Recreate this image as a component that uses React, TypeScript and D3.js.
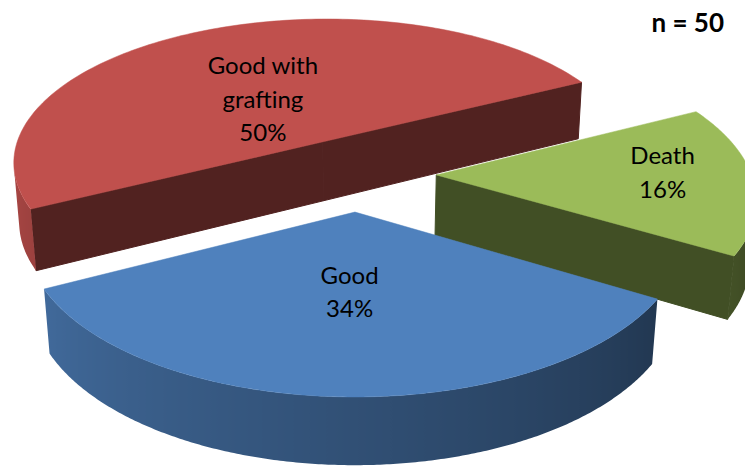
import React from "react";
import * as d3 from "d3";

// ---- data ----
const categories = ["Good", "Death", "Good with grafting"];
const values = [34, 16, 50];
const labelLines = [["Good"], ["Death"], ["Good with", "grafting"]];
const sampleNote = "n = 50";
const sliceColors = ["#4F81BD", "#9BBB59", "#C0504D"];

// ---- layout / camera ----
const W = 745;
const H = 467;
const ELEV = (28 * Math.PI) / 180;
const DIST = 6.42;
const FOCAL = 2022;
const CX = 357.5;
const CY = 173.8;
const THICK = 0.22;
const EXPLODE = 0.25;
const START = (207 * Math.PI) / 180;
const LABEL_R = [0.47, 0.72, 0.38];
const LABEL_ROT = [0, 3, 6.4];
const FONT = "Lato, 'Open Sans', sans-serif";

const cam = [0, DIST * Math.sin(ELEV), -DIST * Math.cos(ELEV)];

function project(p: number[]): [number, number, number] {
  const rx = p[0] - cam[0];
  const ry = p[1] - cam[1];
  const rz = p[2] - cam[2];
  const xc = rx;
  const yc = ry * Math.cos(ELEV) + rz * Math.sin(ELEV);
  const zc = -ry * Math.sin(ELEV) + rz * Math.cos(ELEV);
  return [CX + (FOCAL * xc) / zc, CY - (FOCAL * yc) / zc, zc];
}

function visible(p: number[], n: number[]) {
  return (cam[0] - p[0]) * n[0] + (cam[1] - p[1]) * n[1] + (cam[2] - p[2]) * n[2] > 0;
}

const shade = d3.scaleLinear().domain([180, 340]).range([0.9, 0.4]).clamp(true);

function darken(c: string, f: number) {
  const r = d3.rgb(c);
  return d3.rgb(r.r * f, r.g * f, r.b * f).formatHex();
}

const lineGen = d3.line<[number, number, number]>().x((d) => d[0]).y((d) => d[1]);

export default function App() {
  const arcs = d3.pie<number>().sort(null).value((d) => d)(values);
  const color = d3.scaleOrdinal<string, string>().domain(categories).range(sliceColors);
  const total = d3.sum(values);
  const pct = d3.format(".0%");

  const slices = arcs.map((a, i) => {
    const ps = START + a.startAngle;
    const pe = START + a.endAngle;
    const mid = (ps + pe) / 2;
    const ox = EXPLODE * Math.cos(mid);
    const oz = EXPLODE * Math.sin(mid);
    const pt = (phi: number, r: number, y: number) => [ox + r * Math.cos(phi), y, oz + r * Math.sin(phi)];
    const base = color(categories[i]);
    const toPath = (pts: number[][]) => (lineGen(pts.map(project)) || "") + "Z";
    const walls: { d: string; fill: string }[] = [];

    // radial walls (cut faces)
    const radial = [
      { phi: ps, n: [Math.cos(ps - Math.PI / 2), 0, Math.sin(ps - Math.PI / 2)] },
      { phi: pe, n: [Math.cos(pe + Math.PI / 2), 0, Math.sin(pe + Math.PI / 2)] },
    ];
    radial.forEach((w) => {
      const quad = [pt(w.phi, 0, 0), pt(w.phi, 1, 0), pt(w.phi, 1, -THICK), pt(w.phi, 0, -THICK)];
      const c = pt(w.phi, 0.5, -THICK / 2);
      if (visible(c, w.n)) walls.push({ d: toPath(quad), fill: darken(base, 0.42) });
    });

    // outer curved wall -> single path with horizontal gradient
    const steps = Math.max(16, Math.ceil(((pe - ps) * 360) / Math.PI));
    const vis: number[] = [];
    for (let k = 0; k <= steps; k++) {
      const am = ps + ((pe - ps) * k) / steps;
      const n = [Math.cos(am), 0, Math.sin(am)];
      if (visible(pt(am, 1, -THICK / 2), n)) vis.push(am);
    }
    let outer: { d: string; stops: { o: number; c: string }[]; x1: number; x2: number } | null = null;
    if (vis.length > 1) {
      const topArc = vis.map((am) => pt(am, 1, 0));
      const botArc = vis.map((am) => pt(am, 1, -THICK)).reverse();
      const d = toPath([...topArc, ...botArc]);
      const xs = vis.map((am) => project(pt(am, 1, -THICK / 2))[0]);
      const x1 = d3.min(xs) as number;
      const x2 = d3.max(xs) as number;
      const sx = d3.scaleLinear().domain([x1, x2 === x1 ? x1 + 1 : x2]).range([0, 1]);
      const stops = vis
        .map((am, k) => {
          let deg = ((am * 180) / Math.PI) % 360;
          if (deg < 90) deg += 360;
          return { o: sx(xs[k]), c: darken(base, shade(deg)) };
        })
        .sort((p, q) => p.o - q.o);
      outer = { d, stops, x1, x2 };
    }

    // top face
    const topPts = [pt(0, 0, 0)];
    const n2 = 160;
    for (let k = 0; k <= n2; k++) topPts.push(pt(ps + ((pe - ps) * k) / n2, 1, 0));
    const top = toPath(topPts);

    const depth = project([ox, 0, oz])[2];
    const la = mid + (LABEL_ROT[i] * Math.PI) / 180;
    const lp = project(pt(la, LABEL_R[i], 0));
    const lines = [...labelLines[i], pct(values[i] / total)];
    return { walls, outer, top, base, depth, lp, lines, key: categories[i], idx: i };
  });

  const ordered = [...slices].sort((a, b) => b.depth - a.depth);
  const fs = 24;
  const lh = 33.5;

  return (
    <svg width={W} height={H} style={{ position: "absolute", left: 0, top: 0, background: "#fff" }}>
      <defs>
        {slices.map((s) =>
          s.outer ? (
            <linearGradient
              key={"g" + s.idx}
              id={"wall" + s.idx}
              gradientUnits="userSpaceOnUse"
              x1={s.outer.x1}
              x2={s.outer.x2}
              y1={0}
              y2={0}
            >
              {s.outer.stops.map((st, j) => (
                <stop key={j} offset={st.o} stopColor={st.c} />
              ))}
            </linearGradient>
          ) : null
        )}
      </defs>
      {ordered.map((s) => (
        <g key={s.key}>
          {s.walls.map((f, j) => (
            <path key={j} d={f.d} fill={f.fill} stroke={f.fill} strokeWidth={1} strokeLinejoin="round" />
          ))}
          {s.outer ? <path d={s.outer.d} fill={`url(#wall${s.idx})`} /> : null}
          <path d={s.top} fill={s.base} stroke={s.base} strokeWidth={0.5} />
        </g>
      ))}
      {slices.map((s) => (
        <text key={"t" + s.key} fontFamily={FONT} fontSize={fs} fill="#000" textAnchor="middle">
          {s.lines.map((l, j) => (
            <tspan key={j} x={s.lp[0]} y={s.lp[1] + (j - (s.lines.length - 1) / 2) * lh + fs * 0.35}>
              {l}
            </tspan>
          ))}
        </text>
      ))}
      <text x={724} y={32} fontFamily={FONT} fontSize={26} fontWeight="bold" textAnchor="end" fill="#000">
        {sampleNote}
      </text>
    </svg>
  );
}
